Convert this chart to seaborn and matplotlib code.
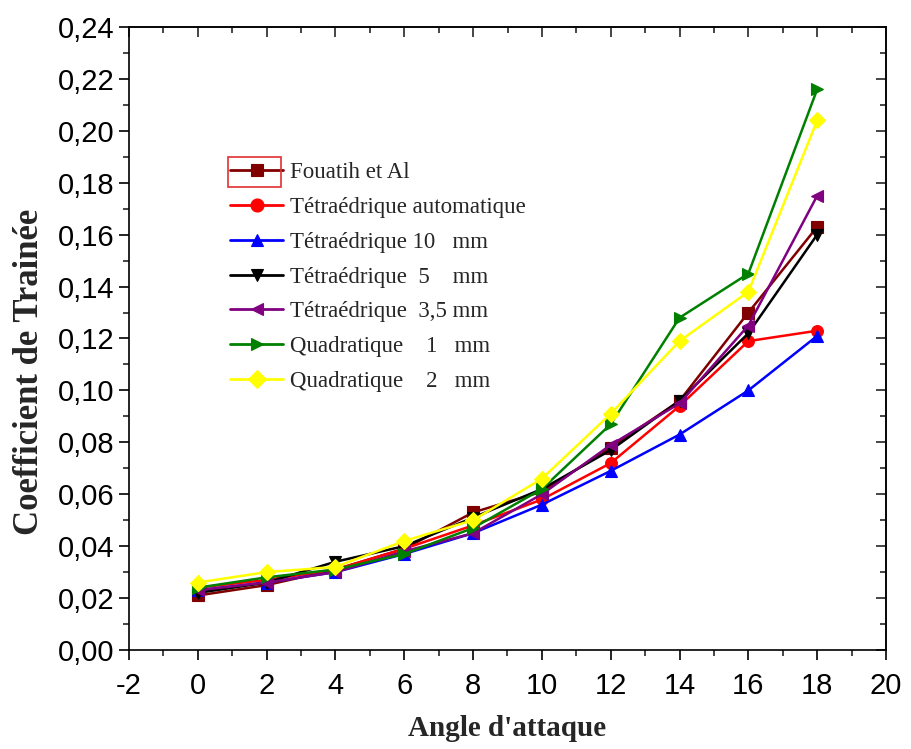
import matplotlib
matplotlib.use("Agg")
import matplotlib.pyplot as plt
from matplotlib.ticker import MultipleLocator, FuncFormatter
from matplotlib.patches import Rectangle
import seaborn as sns
import pandas as pd

# Angle of attack (degrees)
angles = [0, 2, 4, 6, 8, 10, 12, 14, 16, 18]

# Drag coefficient for each mesh / reference
fouatih = [0.021, 0.025, 0.031, 0.039, 0.053, 0.061, 0.078, 0.096, 0.130, 0.163]
tetra_auto = [0.024, 0.027, 0.031, 0.039, 0.048, 0.058, 0.072, 0.094, 0.119, 0.123]
tetra_10 = [0.023, 0.026, 0.030, 0.037, 0.045, 0.056, 0.069, 0.083, 0.100, 0.121]
tetra_5 = [0.022, 0.026, 0.034, 0.040, 0.051, 0.062, 0.077, 0.096, 0.122, 0.160]
tetra_35 = [0.023, 0.026, 0.030, 0.038, 0.045, 0.060, 0.079, 0.095, 0.125, 0.175]
quad_1 = [0.024, 0.028, 0.031, 0.037, 0.047, 0.062, 0.087, 0.128, 0.145, 0.216]
quad_2 = [0.026, 0.030, 0.032, 0.042, 0.050, 0.066, 0.091, 0.119, 0.138, 0.204]

series_names = [
    "Fouatih et Al",
    "Tétraédrique automatique",
    "Tétraédrique 10   mm",
    "Tétraédrique  5    mm",
    "Tétraédrique  3,5 mm",
    "Quadratique    1   mm",
    "Quadratique    2   mm",
]
series_values = [fouatih, tetra_auto, tetra_10, tetra_5, tetra_35, quad_1, quad_2]

colors = ["#800000", "#ff0000", "#0000ff", "#000000", "#800080", "#008000", "#ffff00"]
markers = ["s", "o", "^", "v", "<", ">", "D"]

rows = []
for name, vals in zip(series_names, series_values):
    for a, v in zip(angles, vals):
        rows.append({"angle": a, "cd": v, "serie": name})
df = pd.DataFrame(rows)

sns.set_theme(style="white")
plt.rcParams["font.family"] = ["Liberation Sans Narrow", "Liberation Sans", "DejaVu Sans"]

fig = plt.figure(figsize=(9.12, 7.49), dpi=100)
ax = fig.add_axes([129 / 912, 1 - 650 / 749, (886 - 129) / 912, (650 - 27) / 749])

sns.lineplot(
    data=df, x="angle", y="cd", hue="serie", style="serie",
    hue_order=series_names, style_order=series_names,
    palette=dict(zip(series_names, colors)),
    markers=dict(zip(series_names, markers)),
    dashes=False, markersize=8.5, linewidth=1.8, markeredgewidth=0.8,
    ax=ax, legend=True,
)
# markers outlined in their own series colour
for line in ax.lines:
    line.set_markeredgecolor(line.get_color())

ax.set_xlim(-2, 20)
ax.set_ylim(0, 0.24)
ax.xaxis.set_major_locator(MultipleLocator(2))
ax.xaxis.set_minor_locator(MultipleLocator(1))
ax.yaxis.set_major_locator(MultipleLocator(0.02))
ax.yaxis.set_minor_locator(MultipleLocator(0.01))
ax.yaxis.set_major_formatter(FuncFormatter(lambda v, p: f"{v:.2f}".replace(".", ",")))
ax.xaxis.set_major_formatter(FuncFormatter(lambda v, p: f"{v:.0f}"))

for s in ax.spines.values():
    s.set_color("black")
    s.set_linewidth(1.2)

ax.tick_params(axis="both", which="major", direction="out", length=7, width=1.2,
               labelsize=21, colors="black", bottom=True, left=True)
ax.tick_params(axis="both", which="minor", direction="out", length=4, width=1.2,
               bottom=True, left=True)
ax.tick_params(axis="x", which="major", pad=9)

# mirrored inward ticks on top and right
top = ax.secondary_xaxis("top")
top.xaxis.set_major_locator(MultipleLocator(2))
top.xaxis.set_minor_locator(MultipleLocator(1))
top.tick_params(which="major", direction="in", length=7, width=1.2, labeltop=False)
top.tick_params(which="minor", direction="in", length=4, width=1.2)
right = ax.secondary_yaxis("right")
right.yaxis.set_major_locator(MultipleLocator(0.02))
right.yaxis.set_minor_locator(MultipleLocator(0.01))
right.tick_params(which="major", direction="in", length=7, width=1.2, labelright=False)
right.tick_params(which="minor", direction="in", length=4, width=1.2)

serif = ["Liberation Serif", "DejaVu Serif"]
ax.set_xlabel("Angle d'attaque", family=serif, weight="bold", size=21)
ax.set_ylabel("Coefficient de Trainée", family=serif, weight="bold", size=25)
ax.xaxis.set_label_coords(0.5, -(728 - 650) / 623, transform=ax.transAxes)
ax.xaxis.label.set_va("center")
ax.yaxis.set_label_coords(-(129 - 30) / 757, 0.5 - (372 - 338.5) / 623)
ax.yaxis.label.set_va("center")

leg = ax.legend(
    loc="upper left", bbox_to_anchor=(92 / 757, 1 - 126 / 623),
    frameon=False, prop=dict(family=serif, size=16.5),
    handlelength=2.3, handletextpad=0.32, labelspacing=0.6, borderaxespad=0,
    markerscale=1.1,
)
for h in leg.legend_handles:
    h.set_linewidth(2)
    h.set_markeredgecolor(h.get_color())

# highlight frame around the first legend entry
fig.patches.append(Rectangle((228 / 912, 1 - 187 / 749), 53 / 912, 30 / 749,
                             transform=fig.transFigure, fill=False,
                             edgecolor="#e03030", linewidth=1.2))

fig.savefig("out.png", dpi=100)
